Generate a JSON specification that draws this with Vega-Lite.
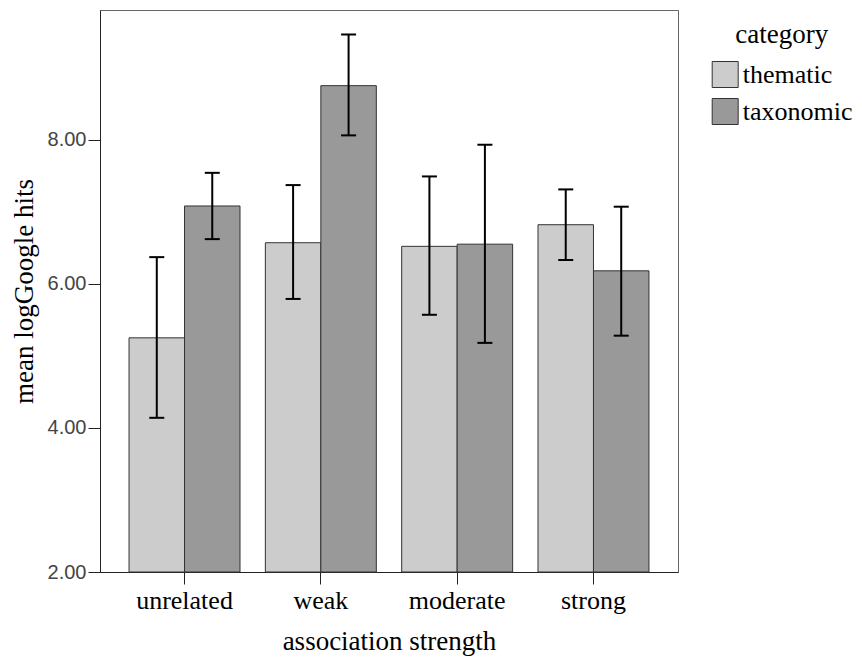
{
  "$schema": "https://vega.github.io/schema/vega-lite/v6.json",
  "autosize": {"type": "none"},
  "padding": {"left": 100, "top": 10, "right": 184, "bottom": 86},
  "width": 578,
  "height": 562,
  "config": {
    "view": {"stroke": "#666", "strokeWidth": 1},
    "axis": {"grid": false, "domainColor": "#222", "tickColor": "#222", "titleFontWeight": "normal", "titleColor": "#000"}
  },
  "data": {
    "values": [
      {"strength": "unrelated", "category": "thematic", "mean": 5.25, "lo": 4.14, "hi": 6.37},
      {"strength": "unrelated", "category": "taxonomic", "mean": 7.08, "lo": 6.62, "hi": 7.54},
      {"strength": "weak", "category": "thematic", "mean": 6.57, "lo": 5.79, "hi": 7.37},
      {"strength": "weak", "category": "taxonomic", "mean": 8.75, "lo": 8.06, "hi": 9.46},
      {"strength": "moderate", "category": "thematic", "mean": 6.52, "lo": 5.57, "hi": 7.49},
      {"strength": "moderate", "category": "taxonomic", "mean": 6.55, "lo": 5.18, "hi": 7.93},
      {"strength": "strong", "category": "thematic", "mean": 6.82, "lo": 6.33, "hi": 7.31},
      {"strength": "strong", "category": "taxonomic", "mean": 6.18, "lo": 5.28, "hi": 7.07}
    ]
  },
  "encoding": {
    "x": {
      "field": "strength", "type": "nominal",
      "sort": ["unrelated", "weak", "moderate", "strong"],
      "scale": {"paddingInner": 0.186, "paddingOuter": 0.213},
      "axis": {
        "title": "association strength",
        "labelAngle": 0,
        "labelFont": "Liberation Serif", "labelFontSize": 26, "labelColor": "#000",
        "titleFont": "Liberation Serif", "titleFontSize": 27,
        "tickSize": 12, "labelPadding": 3.5, "titlePadding": 15
      }
    },
    "xOffset": {"field": "category", "type": "nominal", "sort": ["thematic", "taxonomic"]}
  },
  "layer": [
    {
      "mark": {"type": "bar", "stroke": "#333", "strokeWidth": 1},
      "encoding": {
        "y": {
          "field": "mean", "type": "quantitative",
          "scale": {"domain": [2, 9.8], "nice": false, "zero": false},
          "axis": {
            "title": "mean logGoogle hits",
            "values": [2, 4, 6, 8], "format": ".2f",
            "labelFont": "Liberation Sans", "labelFontSize": 20, "labelColor": "#444",
            "titleFont": "Liberation Serif", "titleFontSize": 27,
            "tickSize": 12, "labelPadding": 2, "titlePadding": 8.4
          }
        },
        "y2": {"datum": 2},
        "color": {
          "field": "category", "type": "nominal",
          "scale": {"domain": ["thematic", "taxonomic"], "range": ["#cccccc", "#999999"]},
          "legend": {
            "title": "category",
            "titleFont": "Liberation Serif", "titleFontSize": 27, "titleFontWeight": "normal", "titleColor": "#000",
            "titleAnchor": "middle", "titlePadding": 12.3,
            "labelFont": "Liberation Serif", "labelFontSize": 26, "labelColor": "#000",
            "labelOffset": 4,
            "symbolType": "square", "symbolSize": 676,
            "symbolStrokeColor": "#333", "symbolStrokeWidth": 1, "symbolOpacity": 1,
            "rowPadding": 6,
            "offset": 22.3, "padding": 11.7
          }
        }
      }
    },
    {
      "mark": {"type": "rule", "color": "#000", "strokeWidth": 2},
      "encoding": {
        "y": {"field": "lo", "type": "quantitative"},
        "y2": {"field": "hi"}
      }
    },
    {
      "mark": {"type": "tick", "color": "#000", "thickness": 2, "size": 15, "orient": "horizontal", "opacity": 1},
      "encoding": {"y": {"field": "lo", "type": "quantitative"}}
    },
    {
      "mark": {"type": "tick", "color": "#000", "thickness": 2, "size": 15, "orient": "horizontal", "opacity": 1},
      "encoding": {"y": {"field": "hi", "type": "quantitative"}}
    }
  ]
}
